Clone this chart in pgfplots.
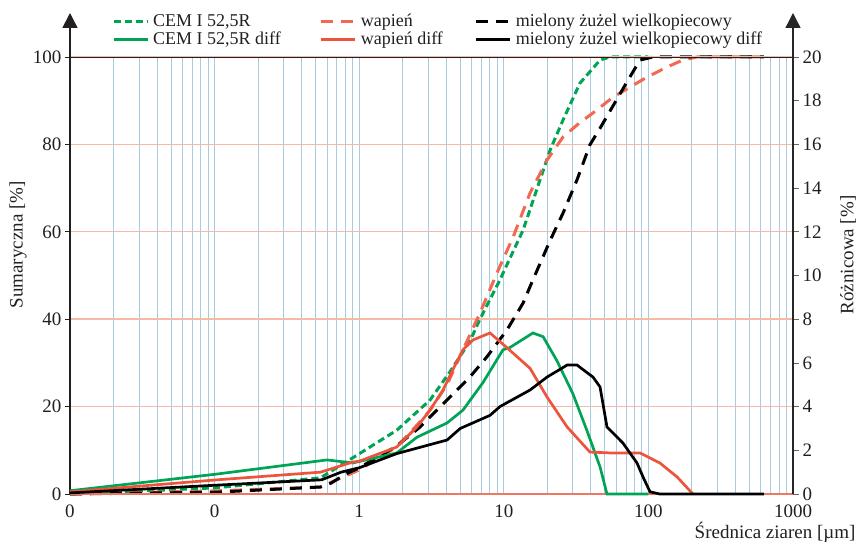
\documentclass[border=0pt]{standalone}
\usepackage{fontspec}
\setmainfont{Liberation Serif}
\usepackage{pgfplots}
\pgfplotsset{compat=1.18}
\usetikzlibrary{arrows.meta}
\definecolor{cemgreen}{RGB}{0,164,84}
\definecolor{wapred}{RGB}{236,84,60}
\definecolor{wapdash}{RGB}{242,104,80}
\definecolor{gridblue}{RGB}{165,204,225}
\definecolor{gridorange}{RGB}{244,186,164}
\definecolor{txt}{RGB}{35,31,32}
\tikzset{
  cemd/.style={cemgreen, line width=3pt, dash pattern=on 7pt off 4pt},
  wapd/.style={wapdash, line width=3pt, dash pattern=on 12pt off 8pt},
  slagd/.style={black, line width=3pt, dash pattern=on 12pt off 8pt},
  cems/.style={cemgreen, line width=2.7pt},
  waps/.style={wapred, line width=2.7pt},
  slags/.style={black, line width=2.7pt},
}
\begin{document}
\begin{tikzpicture}
\useasboundingbox (0,0) rectangle (859pt,544pt);
\begin{axis}[at={(70pt,50pt)}, anchor=south west, scale only axis,
  width=723pt, height=437pt, xmode=log, xmin=0.01, xmax=1000,
  clip=false, axis line style={draw=none},
  tick label style={font=\fontsize{19}{22}\selectfont, text=txt},
  /pgf/number format/assume math mode=true,
  ymin=0, ymax=100, ytick={0,20,...,100},
  axis x line*=bottom, axis y line*=left,
  xtick={0.01,0.1,1,10,100,1000}, xticklabels={0,0,1,10,100,1000},
  minor xtick={0.02,0.03,0.04,0.05,0.06,0.07,0.08,0.09,0.2,0.3,0.4,0.5,0.6,0.7,0.8,0.9,2,3,4,5,6,7,8,9,20,30,40,50,60,70,80,90,200,300,400,500,600,700,800,900},
  xmajorgrids, xminorgrids, ymajorgrids,
  major x grid style={gridblue, line width=0.9pt},
  minor x grid style={gridblue, line width=0.9pt},
  major y grid style={gridorange, line width=1.4pt},
  extra y ticks={20,40,60,80},
  extra y tick labels={},
  extra y tick style={grid=major, major grid style={gridblue, line width=0.7pt, opacity=0.55}},
  tick align=outside, major tick length=5pt,
  xtick style={draw=none}, minor tick style={draw=none},
  ytick style={txt, line width=0.6pt},
  xticklabel style={yshift=-2pt},
]
\addplot[cemd] coordinates {(0.01,0) (0.1,1.4) (0.54,3.7) (1,9.2) (1.82,14.6) (3.09,21.5) (4.25,28) (5.84,35) (6.84,40) (9.4,49) (13.6,60.4) (20.9,78.7) (25.7,85.6) (33.6,94) (46.3,99.3) (54.2,100) (100,100)};
\addplot[wapd] coordinates {(0.01,0) (0.1,0.7) (0.54,1.6) (0.64,2.7) (1,5.5) (1.82,10.8) (2.63,16.5) (3.09,19.2) (4.05,25) (5.22,33) (6.84,41.4) (8.97,50.6) (11.6,58.8) (15.2,68.9) (19.9,76.4) (25.7,81.7) (33.6,85) (41.4,87.2) (56.9,90.8) (74.6,93.1) (97.8,95.4) (134.5,97.7) (173,99.3) (217,100) (630,100)};
\addplot[slagd] coordinates {(0.01,0) (0.1,0.4) (0.54,1.6) (0.64,2.5) (0.8,4.5) (1,6) (1.82,11) (2.63,15.3) (4.05,21.5) (5.84,26.8) (7.65,31.4) (10.5,37.5) (13.6,43.7) (15.9,49) (20.9,58) (25.7,64.3) (32.1,71.9) (39.4,79.9) (46.3,83.7) (56.9,88.8) (71.1,94.3) (87.5,99.3) (107.6,100) (630,100)};
\end{axis}
\begin{axis}[at={(70pt,50pt)}, anchor=south west, scale only axis,
  width=723pt, height=437pt, xmode=log, xmin=0.01, xmax=1000,
  clip=false, axis line style={draw=none},
  tick label style={font=\fontsize{19}{22}\selectfont, text=txt},
  /pgf/number format/assume math mode=true,
  ymin=0, ymax=20, ytick={0,2,...,20},
  axis y line*=right, axis x line*=bottom,
  xtick=\empty,
  tick align=outside, major tick length=6pt,
  ytick style={black!60, line width=0.6pt},
  legend columns=2, transpose legend,
  legend cell align=left,
  legend image code/.code={\draw[#1] (0pt,0pt) -- (34pt,0pt);},
  legend style={at={(0.058,1.103)}, anchor=north west, draw=none, fill=none,
    inner sep=0pt, row sep=0pt, font=\fontsize{18}{20}\selectfont, text=txt,
    /tikz/every odd column/.append style={column sep=2pt},
    /tikz/column 2/.append style={column sep=37pt},
    /tikz/column 4/.append style={column sep=30pt}},
]
\draw[wapred!80, line width=1.2pt] (rel axis cs:0,0) -- (rel axis cs:1,0);
\draw[gridorange, line width=1.5pt] (rel axis cs:0,1) -- (rel axis cs:1,1);
\draw[txt, line width=0.8pt] (rel axis cs:0,1) -- (rel axis cs:1,1);
\draw[txt, line width=1.6pt, -{Triangle[width=15pt,length=15pt]}] (rel axis cs:0,0) -- (rel axis cs:0,1.1007);
\draw[black!85, line width=1.4pt, -{Triangle[width=15pt,length=15pt]}] (rel axis cs:1,0) -- (rel axis cs:1,1.1007);
\node[rotate=90, font=\fontsize{19}{22}\selectfont, text=txt] at ([xshift=-52pt]rel axis cs:0,0.57) {Sumaryczna [\%]};
\node[rotate=90, font=\fontsize{19}{22}\selectfont, text=txt] at ([xshift=55pt]rel axis cs:1,0.547) {Różnicowa [\%]};
\node[anchor=base east, font=\fontsize{19}{22}\selectfont, text=txt] at ([xshift=66pt,yshift=-44pt]rel axis cs:1,0) {Średnica ziaren [µm]};
\addlegendimage{cemd}
\addlegendentry{CEM I 52,5R}
\addplot[cems] coordinates {(0.01,0.15) (0.1,0.9) (0.6,1.56) (0.9,1.42) (1.82,1.88) (2.51,2.6) (4.05,3.25) (5.22,3.84) (7.18,5.1) (9.87,6.6) (11,6.7) (15.9,7.37) (18.7,7.2) (23.3,6.1) (30,4.6) (37.6,2.9) (46.3,1.24) (51.7,0) (100,0)};
\addlegendentry{CEM I 52,5R diff}
\addlegendimage{wapd}
\addlegendentry{wapień}
\addplot[waps] coordinates {(0.01,0.1) (0.1,0.64) (0.54,1.0) (0.9,1.46) (1,1.5) (1.82,2.15) (2.51,3.07) (3.09,3.84) (3.8,4.76) (4.45,5.7) (5.22,6.6) (6.12,7.05) (8.03,7.37) (10.5,6.7) (15.2,5.75) (19.9,4.44) (27.4,3.07) (39.4,1.92) (54.2,1.88) (87.5,1.88) (120,1.42) (158,0.78) (203,0)};
\addlegendentry{wapień diff}
\addlegendimage{slagd}
\addlegendentry{mielony żużel wielkopiecowy}
\addplot[slags] coordinates {(0.01,0.05) (0.1,0.4) (0.55,0.65) (0.75,1.0) (1,1.2) (1.82,1.85) (4.05,2.47) (5,3.0) (8.03,3.6) (9.4,4.0) (15.2,4.76) (19.9,5.35) (27.4,5.9) (32.1,5.9) (41.4,5.35) (46.3,4.9) (51.7,3.07) (66.7,2.33) (83.4,1.42) (91.8,0.78) (102.6,0.1) (120,0) (630,0)};
\addlegendentry{mielony żużel wielkopiecowy diff}
\end{axis}
\end{tikzpicture}
\end{document}
